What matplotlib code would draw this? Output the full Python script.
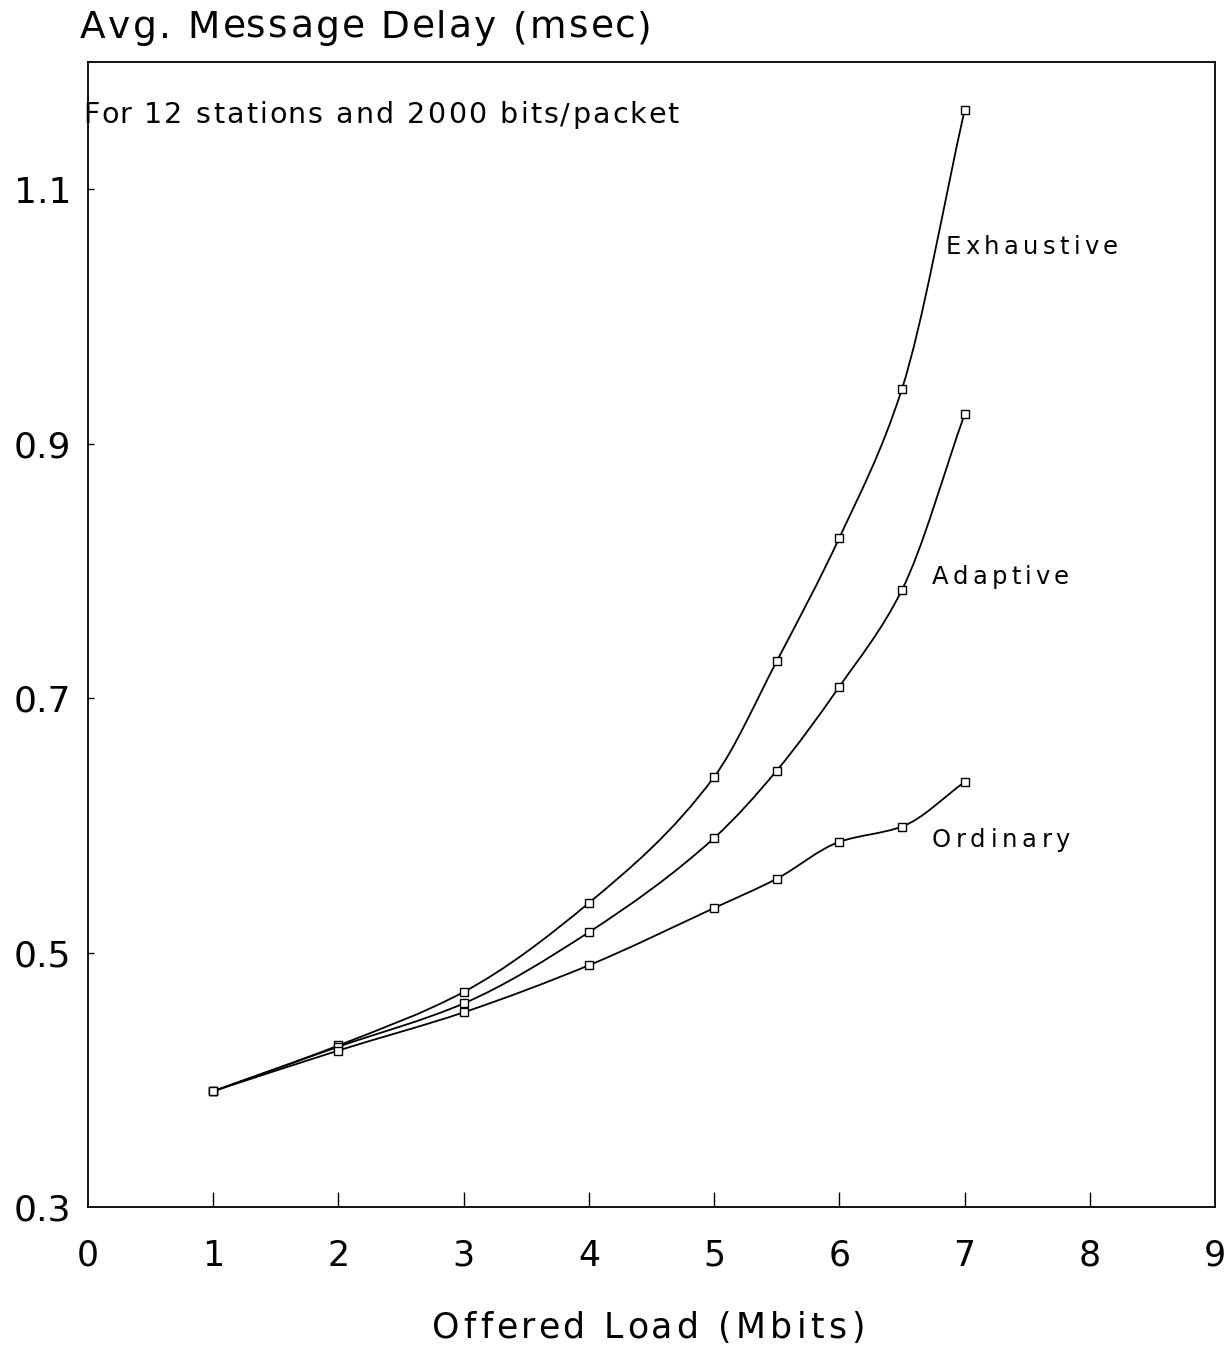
import matplotlib
matplotlib.use("Agg")
import matplotlib.pyplot as plt
from matplotlib.path import Path
from matplotlib.patches import PathPatch
from matplotlib.font_manager import FontProperties

# DATA
load = [1, 2, 3, 4, 5, 5.5, 6, 6.5, 7]
exhaustive = [0.391, 0.427, 0.469, 0.539, 0.638, 0.729, 0.826, 0.943, 1.162]
adaptive = [0.391, 0.426, 0.460, 0.516, 0.590, 0.643, 0.709, 0.785, 0.923]
ordinary = [0.391, 0.423, 0.453, 0.490, 0.535, 0.558, 0.587, 0.599, 0.634]
curve_names = ["Exhaustive", "Adaptive", "Ordinary"]
label_pos = [(6.85, 1.049), (6.74, 0.790), (6.74, 0.583)]
xticks = [0, 1, 2, 3, 4, 5, 6, 7, 8, 9]
yticks = [0.3, 0.5, 0.7, 0.9, 1.1]

W, H = 1231, 1351
FONT = 'DejaVu Sans'
plt.rcParams['font.family'] = [FONT]

fig = plt.figure(figsize=(W / 100, H / 100), dpi=100)
ax = fig.add_axes([0.0715, 0.1066, 0.9155, 0.8475])
renderer = fig.canvas.get_renderer()


def char_width(c, fp):
    # width of a single char incl. spaces (measured between two x's)
    w2 = renderer.get_text_width_height_descent("x" + c + "x", fp, ismath=False)[0]
    w0 = renderer.get_text_width_height_descent("xx", fp, ismath=False)[0]
    return w2 - w0


def spaced_text(x_px, y_px, s, size, width_px, ha='left'):
    # letter-spaced text; x/y (baseline) in pixels from top-left of the figure
    fp = FontProperties(family=FONT, size=size)
    widths = [char_width(c, fp) for c in s]
    gap = (width_px - sum(widths)) / (len(s) - 1)
    pos = x_px if ha == 'left' else x_px - width_px / 2
    for c, w in zip(s, widths):
        fig.text(pos / W, 1 - y_px / H, c, fontproperties=fp,
                 va='baseline', ha='left')
        pos += w + gap


def smooth_path(xs, ys):
    # monotone cubic (pchip-style tangents) through the points, as Bezier
    n = len(xs)
    h = [xs[i + 1] - xs[i] for i in range(n - 1)]
    d = [(ys[i + 1] - ys[i]) / h[i] for i in range(n - 1)]
    m = [d[0]] + [0.0] * (n - 2) + [d[-1]]
    for k in range(1, n - 1):
        if d[k - 1] * d[k] <= 0:
            m[k] = 0.0
        else:
            w1 = 2 * h[k] + h[k - 1]
            w2 = h[k] + 2 * h[k - 1]
            m[k] = (w1 + w2) / (w1 / d[k - 1] + w2 / d[k])
    verts = [(xs[0], ys[0])]
    codes = [Path.MOVETO]
    for i in range(n - 1):
        verts += [(xs[i] + h[i] / 3, ys[i] + m[i] * h[i] / 3),
                  (xs[i + 1] - h[i] / 3, ys[i + 1] - m[i + 1] * h[i] / 3),
                  (xs[i + 1], ys[i + 1])]
        codes += [Path.CURVE4] * 3
    return Path(verts, codes)


for ys in (exhaustive, adaptive, ordinary):
    ax.add_patch(PathPatch(smooth_path(load, ys), facecolor='none',
                           edgecolor='black', lw=1.3))
    ax.plot(load, ys, linestyle='none', marker='s', markersize=5.5,
            markerfacecolor='white', markeredgecolor='black', markeredgewidth=1)

ax.set_xlim(0, 9)
ax.set_ylim(0.3, 1.2)
ax.set_xticks(xticks)
ax.set_xticklabels([str(t) for t in xticks], fontsize=25)
ax.set_yticks(yticks)
ax.set_yticklabels(["%.1f" % t for t in yticks], fontsize=26)
ax.tick_params(axis='x', direction='in', length=11, width=1, pad=23)
ax.tick_params(axis='y', direction='in', length=4, width=1, pad=12)
for t in ax.xaxis.get_major_ticks():
    if t.get_loc() in (0, 9):
        t.tick1line.set_visible(False)
for t in ax.yaxis.get_major_ticks():
    if t.get_loc() == 0.3:
        t.tick1line.set_visible(False)
for s in ax.spines.values():
    s.set_linewidth(1.3)

# curve labels, baseline at data positions
label_widths = [171, 136, 138]
for name, (lx, ly), wpx in zip(curve_names, label_pos, label_widths):
    px, py = ax.transData.transform((lx, ly))
    spaced_text(px, H - py, name, 17.5, wpx)

spaced_text(83, 123, "For 12 stations and 2000 bits/packet", 20.5, 595)
spaced_text(80, 38, "Avg. Message Delay (msec)", 27, 572)
spaced_text(648, 1338, "Offered Load (Mbits)", 25, 433, ha='center')

fig.savefig("out.png", dpi=100)
